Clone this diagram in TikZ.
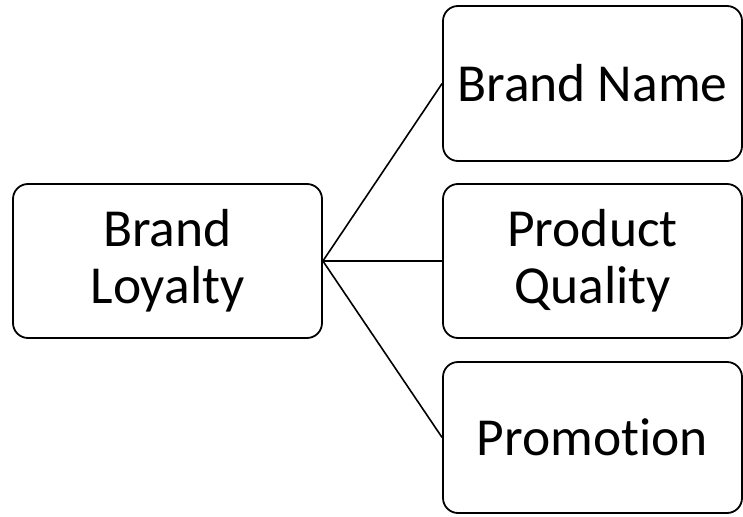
\documentclass[tikz,border=0pt]{standalone}
\usepackage{fontspec}
\setmainfont[Ligatures=NoCommon]{Carlito}
\usetikzlibrary{positioning}

\begin{document}
\begin{tikzpicture}[x=1pt, y=1pt,
    topic/.style={draw=black, line width=1.8pt, rounded corners=15pt, fill=white,
          align=center, inner sep=0pt, font=\fontsize{53.5}{57}\selectfont},
    link/.style={line width=1.6pt}]
    \useasboundingbox (0,0) rectangle (743,-516);

    % main box on the left
    \node[topic, minimum width=309pt, minimum height=154pt] (loyalty) at (167.5,-261) {Brand\\Loyalty};

    % the three factors
    \node[topic, minimum width=299pt, minimum height=155pt] (name) at (592.5,-83.5) {Brand Name};
    \node[topic, minimum width=299pt, minimum height=154pt] (quality) at (592.5,-261) {Product\\Quality};
    \node[topic, minimum width=299pt, minimum height=151pt] (promo) at (592.5,-437.5) {Promotion};

    \draw[link] (loyalty.east) -- (name.west);
    \draw[link] (loyalty.east) -- (quality.west);
    \draw[link] (loyalty.east) -- (promo.west);
\end{tikzpicture}
\end{document}
